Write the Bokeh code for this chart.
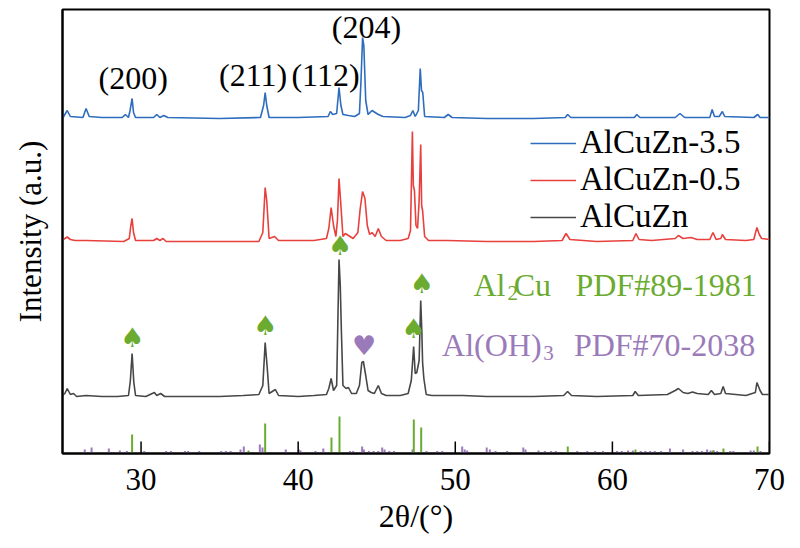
from bokeh.plotting import figure
from bokeh.models import (Range1d, FixedTicker, Legend, LegendItem)
from bokeh.core.properties import value
from bokeh.embed import file_html
from bokeh.resources import INLINE

# ---------------- data (2theta in degrees, intensity in stacked display units) -------------
blue_x = [25.0, 25.15, 25.3, 25.5, 26.3, 26.5, 26.7, 27.5, 28.8, 29.0, 29.2, 29.3, 29.43, 29.52, 29.65,
          30.8, 31.0, 31.2, 31.45, 31.7, 35.0, 37.6, 37.8, 37.9, 38.0, 38.15, 40.0, 41.9, 42.05, 42.2,
          42.45, 42.6, 42.72, 42.85, 43.2, 43.6, 43.9, 44.0, 44.1, 44.18, 44.3, 44.45, 44.7, 44.9, 45.1,
          45.4, 46.8, 47.15, 47.3, 47.45, 47.65, 47.77, 47.85, 47.93, 48.05, 49.3, 49.55, 49.8, 52.0,
          55.0, 57.0, 57.15, 57.35, 61.4, 61.55, 61.75, 64.0, 64.3, 64.6, 66.2, 66.35, 66.5, 66.8, 67.0,
          67.15, 69.0, 69.25, 69.4, 70.0]
blue_y = [335, 339, 343, 337, 336, 345, 337, 336, 336, 339, 336, 343, 355, 341, 336,
          336, 339, 336, 338, 336, 335, 336, 348, 361, 348, 336, 336, 337, 342, 339,
          340, 366, 348, 339, 338, 337, 340, 373, 416, 408, 353, 339, 343, 341, 339,
          337, 336, 338, 343, 337, 343, 385, 363, 361, 337, 336, 339, 336, 335,
          335, 336, 339, 336, 336, 339, 336, 336, 340, 336, 336, 344, 337, 337, 342,
          337, 336, 339, 336, 336]

red_x = [25.0, 25.15, 25.3, 25.5, 25.8, 26.5, 28.9, 29.25, 29.35, 29.43, 29.52, 29.65, 30.8, 31.0, 31.2,
         31.4, 31.6, 37.5, 37.75, 37.9, 38.0, 38.15, 38.5, 38.75, 41.0, 41.8, 41.95, 42.1, 42.25, 42.4,
         42.5, 42.6, 42.7, 42.85, 43.0, 43.2, 43.5, 43.8, 43.95, 44.1, 44.25, 44.4, 44.55, 44.7, 44.9,
         45.1, 45.3, 45.6, 46.5, 47.0, 47.15, 47.27, 47.33, 47.4, 47.5, 47.6, 47.7, 47.8, 47.86, 47.92,
         48.05, 48.3, 49.5, 52.0, 55.0, 56.8, 57.05, 57.3, 59.0, 61.3, 61.5, 61.7, 62.5, 64.0, 64.2,
         64.5, 65.0, 65.4, 66.2, 66.4, 66.6, 66.9, 67.0, 67.2, 68.5, 69.0, 69.2, 69.35, 69.5, 70.0]
red_y = [213, 215, 216.5, 214, 213, 213, 212, 215, 228, 235, 221, 213, 213, 215, 213,
         215, 212, 212, 221, 266, 253, 215, 217, 213, 213, 215, 225, 246, 228, 217,
         233, 275, 253, 217, 220, 218, 215, 221, 245, 262, 255, 228, 219, 221, 217,
         225, 217, 213, 213, 215, 223, 322, 268, 263, 228, 225, 253, 309, 248, 243,
         217, 213, 213, 212, 212, 213, 220, 214, 212, 213, 220, 214, 213, 215, 218,
         215, 216, 214, 214, 221, 214, 215, 219, 214, 213, 214, 226, 219, 215, 214]

black_x = [25.0, 25.15, 25.3, 25.5, 25.7, 25.9, 26.5, 27.5, 28.5, 29.2, 29.32, 29.43, 29.54, 29.65, 30.3,
           30.85, 31.0, 31.25, 31.5, 33.0, 35.0, 36.5, 37.5, 37.75, 37.9, 38.02, 38.15, 38.55, 38.75,
           40.0, 41.0, 41.8, 41.95, 42.1, 42.25, 42.45, 42.6, 42.68, 42.75, 42.85, 43.05, 43.2, 43.4,
           43.7, 43.9, 44.05, 44.15, 44.3, 44.45, 44.65, 44.85, 45.1, 45.3, 45.6, 46.5, 47.0, 47.2,
           47.35, 47.45, 47.55, 47.7, 47.8, 47.87, 47.92, 48.0, 48.15, 48.5, 49.5, 50.5, 52.0, 55.0,
           56.9, 57.15, 57.4, 59.0, 61.3, 61.45, 61.65, 63.5, 64.0, 64.2, 64.5, 64.8, 65.1, 65.4, 66.1,
           66.3, 66.5, 66.9, 67.05, 67.2, 68.5, 69.1, 69.2, 69.3, 69.4, 69.55, 70.0]
black_y = [58, 60, 65, 59, 60, 57, 58, 57, 57, 58, 73, 100, 71, 58, 57,
           61, 58, 60, 57, 57, 57, 58, 59, 68, 111, 88, 60, 64, 58,
           57, 58, 59, 65, 75, 63, 68, 194, 168, 123, 68, 65, 66, 60,
           60, 68, 91, 92, 78, 63, 61, 60, 68, 60, 58, 58, 60, 73,
           107, 80, 81, 93, 153, 123, 91, 75, 59, 58, 58, 58, 57, 57,
           58, 62, 58, 57, 58, 62, 58, 59, 63, 65, 61, 60, 61.5, 60, 59,
           63, 59, 60, 67, 60, 58, 61, 71, 67, 63, 59, 59]

# reference patterns (stick positions and heights)
al2cu_pos = [29.43, 36.84, 37.9, 42.12, 42.63, 47.36, 47.83, 57.16, 61.47, 66.4, 67.07, 69.24]
al2cu_h = [19, 3, 30, 16, 37, 34, 26, 7, 4, 3, 5, 7]
aloh3_pos = [26.42, 26.85, 27.95, 28.65, 29.1, 30.2, 31.6, 31.9, 32.8, 33.0, 33.7, 35.1, 35.4, 35.7,
             36.33, 36.54, 37.56, 37.73, 39.21, 40.04, 40.15, 41.1, 41.6, 43.3, 43.5, 44.07, 44.18,
             44.5, 44.8, 45.1, 45.35, 45.5, 45.8, 46.1, 47.28, 48.17, 48.85, 49.17, 50.44, 50.6, 50.76,
             52.0, 52.2, 52.56, 53.3, 54.33, 54.47, 55.3, 55.7, 56.1, 56.4, 57.76, 58.4, 58.9, 59.4,
             60.3, 60.6, 61.0, 61.3, 61.8, 62.1, 62.4, 62.7, 63.1, 63.66, 64.5, 65.1, 65.4, 65.7, 66.03,
             66.25, 66.46, 66.67, 67.5, 67.7, 68.8, 69.0, 69.43]
aloh3_h = [4, 6, 5, 3, 2.5, 2.5, 2.5, 2.5, 2.5, 2.5, 2.5, 2.5, 2.5, 2.5,
           4, 7, 9, 6, 4, 4, 3, 2.5, 5, 2.5, 2.5, 7, 4,
           2.5, 2.5, 2.5, 6, 4, 2.5, 2.5, 4, 2.5, 2.5, 2.5, 7, 4, 3,
           6, 4, 2.5, 2.5, 6, 4, 3, 2.5, 2.5, 2.5, 2.5, 2.5, 2.5, 2.5,
           2.5, 2.5, 3, 3, 2.5, 2.5, 2.5, 2.5, 2.5, 5, 4, 2.5, 2.5, 2.5, 4,
           3, 3, 2.5, 2.5, 2.5, 3, 3, 2.5]

series_names = ["AlCuZn-3.5", "AlCuZn-0.5", "AlCuZn"]
x_ticks = [30, 40, 50, 60, 70]

hkl_labels = ["(200)", "(211)", "(112)", "(204)"]
hkl_x = [29.5, 37.13, 41.74, 44.35]
hkl_y = [376, 379, 379, 427]

spade_x = [29.43, 37.9, 42.65, 47.33, 47.85]
spade_y = [116, 128, 208, 125, 170]
heart_x = [44.2]
heart_y = [108]

BLUE = "#2e6dbd"
RED = "#e8403d"
BLACK = "#474747"
GREEN = "#6aab30"
PURPLE = "#9b7ab9"
SERIF = "Liberation Serif"

p = figure(width=790, height=548, output_backend="svg", toolbar_location=None,
           x_range=Range1d(25, 70), y_range=Range1d(0, 444),
           min_border_left=62, min_border_right=21, min_border_top=9, min_border_bottom=95)
p.background_fill_color = "white"
p.border_fill_color = "white"
p.outline_line_color = "black"
p.outline_line_width = 2
p.outline_line_alpha = 1
p.xgrid.visible = False
p.ygrid.visible = False

xa = p.xaxis[0]
xa.ticker = FixedTicker(ticks=x_ticks, minor_ticks=[])
xa.major_tick_in = 0
xa.major_tick_out = 0
xa.minor_tick_line_color = None
xa.axis_line_width = 2
xa.axis_line_color = "black"
xa.major_label_text_font = SERIF
xa.major_label_text_font_size = "31px"
xa.major_label_text_color = "black"
xa.major_label_standoff = 15
xa.axis_label = "2\u03b8/(\u00b0)"
xa.axis_label_text_font = SERIF
xa.axis_label_text_font_style = "normal"
xa.axis_label_text_font_size = "32px"
xa.axis_label_text_color = "black"
xa.axis_label_standoff = 5

ya = p.yaxis[0]
ya.ticker = FixedTicker(ticks=[], minor_ticks=[])
ya.major_tick_in = 0
ya.major_tick_out = 0
ya.minor_tick_line_color = None
ya.major_label_text_font_size = "0px"
ya.axis_line_width = 2
ya.axis_line_color = "black"
ya.axis_label = "Intensity (a.u.)"
ya.axis_label_text_font = SERIF
ya.axis_label_text_font_style = "normal"
ya.axis_label_text_font_size = "31px"
ya.axis_label_text_color = "black"
ya.axis_label_standoff = 15

# sticks
p.segment(x0=aloh3_pos, y0=[0] * len(aloh3_pos), x1=aloh3_pos, y1=aloh3_h,
          line_color=PURPLE, line_width=2)
p.segment(x0=al2cu_pos, y0=[0] * len(al2cu_pos), x1=al2cu_pos, y1=al2cu_h,
          line_color=GREEN, line_width=2)
# inward major ticks at the tick values
p.segment(x0=x_ticks, y0=[0] * len(x_ticks), x1=x_ticks, y1=[12] * len(x_ticks),
          line_color="black", line_width=1.5)

# patterns
rb = p.line(blue_x, blue_y, line_color=BLUE, line_width=1.6)
rr = p.line(red_x, red_y, line_color=RED, line_width=1.6)
rk = p.line(black_x, black_y, line_color=BLACK, line_width=1.6)

legend = Legend(items=[LegendItem(label=series_names[0], renderers=[rb]),
                       LegendItem(label=series_names[1], renderers=[rr]),
                       LegendItem(label=series_names[2], renderers=[rk])],
                location=(468, 218), orientation="vertical")
legend.label_text_font = SERIF
legend.label_text_font_size = "33px"
legend.label_text_color = "black"
legend.glyph_width = 46
legend.glyph_height = 30
legend.label_height = 30
legend.label_standoff = 4
legend.spacing = -4
legend.padding = 0
legend.margin = 0
legend.border_line_color = None
legend.background_fill_alpha = 0
p.add_layout(legend, "center")

# hkl labels
p.text(x=hkl_x, y=hkl_y, text=hkl_labels, text_font=value(SERIF), text_font_size="32px",
       text_align="center", text_baseline="middle", text_color="black")

# phase markers
p.text(x=spade_x, y=spade_y, text=["\u2660"] * len(spade_x), text_font=value("DejaVu Sans"),
       text_font_size="27px", text_align="center", text_baseline="middle", text_color=GREEN)
p.text(x=heart_x, y=heart_y, text=["\u2665"], text_font=value("DejaVu Sans"),
       text_font_size="27px", text_align="center", text_baseline="middle", text_color=PURPLE)

# phase legend texts (with subscripts)
def phase_text(parts, color):
    for txt, x, y, size in parts:
        p.text(x=[x], y=[y], text=[txt], text_font=value(SERIF), text_font_size=size,
               text_align="left", text_baseline="alphabetic", text_color=color)

phase_text([("Al", 51.16, 169, "32px"), ("2", 53.32, 161, "21px"), ("Cu", 53.72, 169, "32px"),
            ("PDF#89-1981", 57.65, 169, "32px")], GREEN)
phase_text([("Al(OH)", 49.16, 109, "32px"), ("3", 55.6, 101, "21px"),
            ("PDF#70-2038", 57.55, 109, "32px")], PURPLE)

open("out.html", "w").write(file_html(p, INLINE))
